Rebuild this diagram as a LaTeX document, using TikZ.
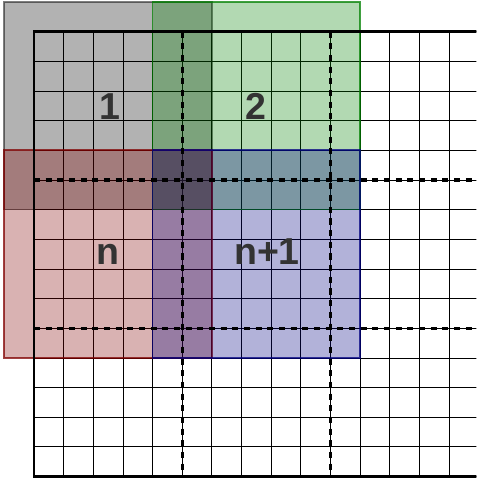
\documentclass[tikz,border=0pt]{standalone}
\usepackage{fontspec}
\newfontfamily\labelfont{Liberation Sans}
\definecolor{labelgray}{HTML}{333333}
\definecolor{winred}{RGB}{128,0,0}
\definecolor{wingreen}{RGB}{0,128,0}
\definecolor{winblue}{RGB}{0,0,128}
\tikzset{
  cellgrid/.style={line width=0.7pt},
  outerframe/.style={line width=2.6pt},
  blockdiv/.style={line width=3.2pt, dash pattern=on 5.8pt off 5.4pt},
  window/.style={line width=1.6pt, fill=#1, fill opacity=0.3, draw=#1, draw opacity=0.75},
  winlabel/.style={anchor=base, inner sep=0pt, text=labelgray,
    font=\labelfont\bfseries\fontsize{36}{40}\selectfont},
}
\begin{document}
\begin{tikzpicture}[x=1cm,y=-1cm]
  \clip (-1.145,-1.07) rectangle (14.92,15.22);

  % Cells
  \draw[cellgrid] (0,0) grid (16,15);

  % Windows
  \draw[window=black, draw opacity=0.5] (-1,-1) rectangle (6,6);
  \draw[window=wingreen] (4,-1) rectangle (11,6);
  \draw[window=winred] (-1,4) rectangle (6,11);
  \draw[window=winblue] (4,4) rectangle (11,11);

  % Block boundaries
  \foreach \k in {5,10} {
    \draw[blockdiv, line cap=butt] (\k,0) -- (\k,15);
    \draw[blockdiv, line cap=butt] (0,\k) -- (16,\k);
  }

  % Frame
  \draw[outerframe] (16,0) -- (0,0) -- (0,15) -- (16,15);

  % Labels
  \node[winlabel] (w1) at (2.55,2.96) {1};
  \node[winlabel] (w2) at (7.5,2.96) {2};
  \node[winlabel] (wn) at (2.5,7.84) {n};
  \node[winlabel] (wn1) at (7.86,7.84) {n+1};
\end{tikzpicture}
\end{document}
